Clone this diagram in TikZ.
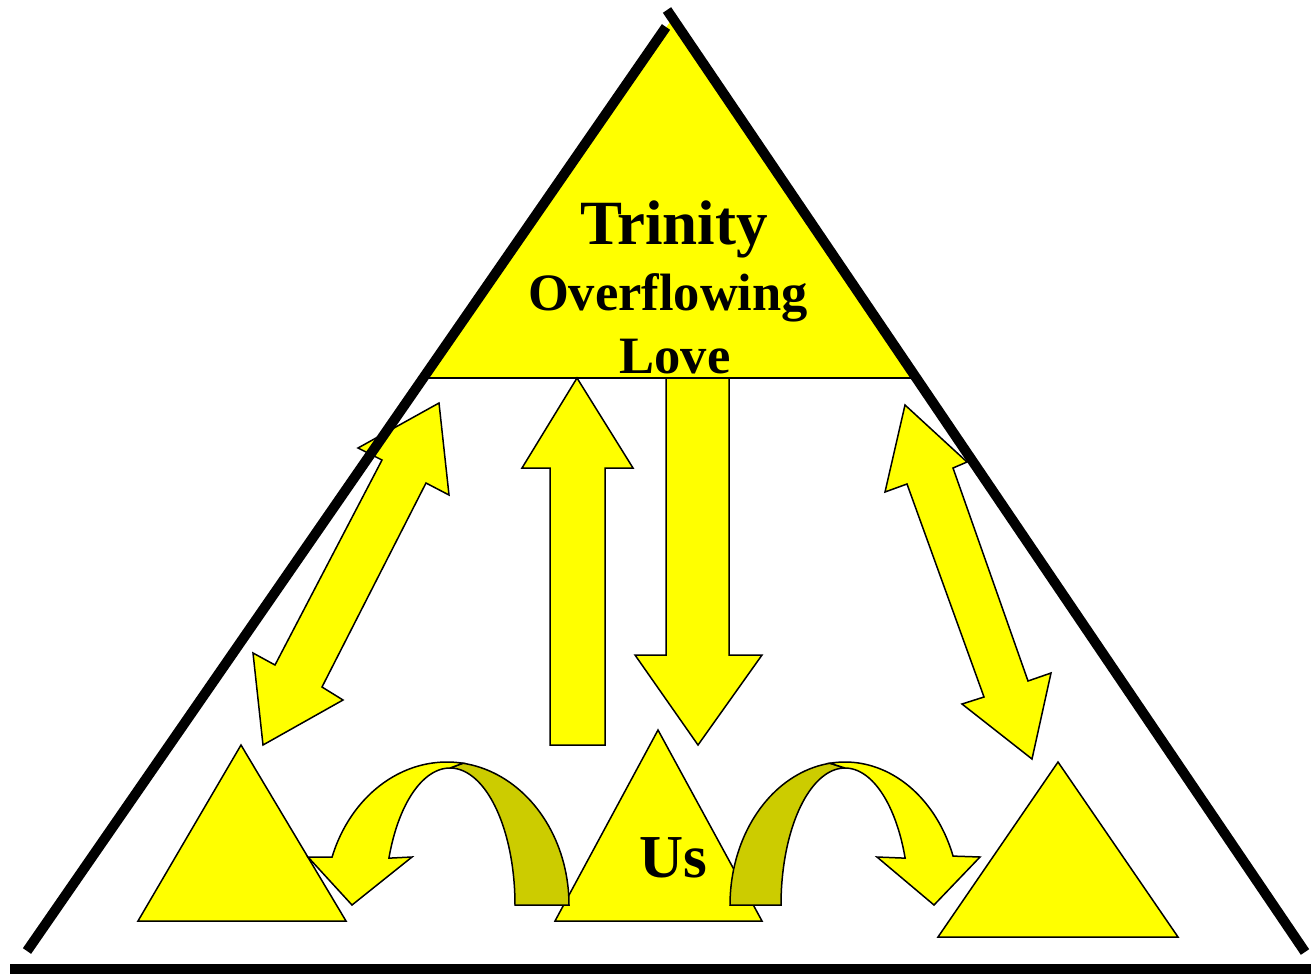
\documentclass[tikz,border=0pt]{standalone}
\usepackage{fontspec}
\setmainfont{Liberation Serif}
\definecolor{yel}{HTML}{FFFF00}
\definecolor{darkyel}{HTML}{CCCC00}
\tikzset{
  yshape/.style={fill=yel, draw=black, line width=1.5, line join=miter},
  dshape/.style={fill=darkyel, draw=black, line width=1.5, line join=miter},
  bigline/.style={draw=black, line width=10},
  lbl/.style={anchor=base, inner sep=0pt, font=\bfseries},
}
\begin{document}
\begin{tikzpicture}[x=1pt,y=-1pt]
\useasboundingbox (0,0) rectangle (1311,974);
% top triangle (its sides lie under the black frame lines)
\fill[yel] (672,19) -- (916,378) -- (424,378) -- cycle;
\draw[black, line width=1.5] (424,378) -- (916,378);
% bottom triangles
\path[yshape] (241,745) -- (346,921) -- (138,921) -- cycle;
\path[yshape] (658,730) -- (762,921) -- (555,921) -- cycle;
\path[yshape] (1058,762) -- (1178,937) -- (938,937) -- cycle;
% vertical arrows
\path[yshape] (577,378) -- (633,468) -- (605,468) -- (605,745) -- (550,745) -- (550,468) -- (522,468) -- cycle;
\path[yshape] (666,378) -- (729,378) -- (729,655) -- (762,655) -- (698,745) -- (635,655) -- (666,655) -- cycle;
% left double arrow
\path[yshape] (439,403) -- (449,495) -- (426,483) -- (322,687) -- (343,700) -- (263,745) -- (253,653) -- (275,665) -- (382,460) -- (358,448) -- cycle;
% right double arrow
\path[yshape] (905,405) -- (967,462) -- (953,468) -- (1028,681) -- (1051,673) -- (1032,759) -- (962,704) -- (984,697) -- (907,484) -- (885,492) -- cycle;
% left curved arrow
\path[dshape] (450,768) -- plot[domain=90:0, samples=40, variable=\t] ({450+65*cos(\t)},{905-137*sin(\t)}) -- (569,905) -- plot[domain=0:82.5, samples=40, variable=\t] ({447+122*cos(\t)},{905-143*sin(\t)}) -- cycle;
\path[yshape] plot[domain=82.5:160.4, samples=50, variable=\t] ({447+122*cos(\t)},{905-143*sin(\t)}) -- (308,857) -- (352,905) -- (412,857) -- plot[domain=160:90, samples=40, variable=\t] ({450+65*cos(\t)},{905-137*sin(\t)}) -- cycle;
% right curved arrow
\path[dshape] (845,768) -- plot[domain=90:180, samples=40, variable=\t] ({845+64*cos(\t)},{905-137*sin(\t)}) -- (730,905) -- plot[domain=180:97.5, samples=40, variable=\t] ({845+115*cos(\t)},{905-143*sin(\t)}) -- cycle;
\path[yshape] plot[domain=97.5:20, samples=50, variable=\t] ({845+115*cos(\t)},{905-143*sin(\t)}) -- (980,857) -- (934,905) -- (877,857) -- plot[domain=20:90, samples=40, variable=\t] ({845+64*cos(\t)},{905-137*sin(\t)}) -- cycle;
% black frame lines
\draw[bigline] (27,951) -- (666,27);
\draw[bigline] (667,10) -- (1305,952);
\draw[bigline] (10,969) -- (1311,969);
% texts
\node[lbl, font=\bfseries\fontsize{63}{63}\selectfont] (trinity) at (674,244) {Trinity};
\node[lbl, font=\bfseries\fontsize{52.5}{52.5}\selectfont] (overflow) at (668,310) {Overflowing};
\node[lbl, font=\bfseries\fontsize{52.5}{52.5}\selectfont] (love) at (675,373) {Love};
\node[lbl, font=\bfseries\fontsize{61}{61}\selectfont] (us) at (673,877) {Us};
\end{tikzpicture}
\end{document}
